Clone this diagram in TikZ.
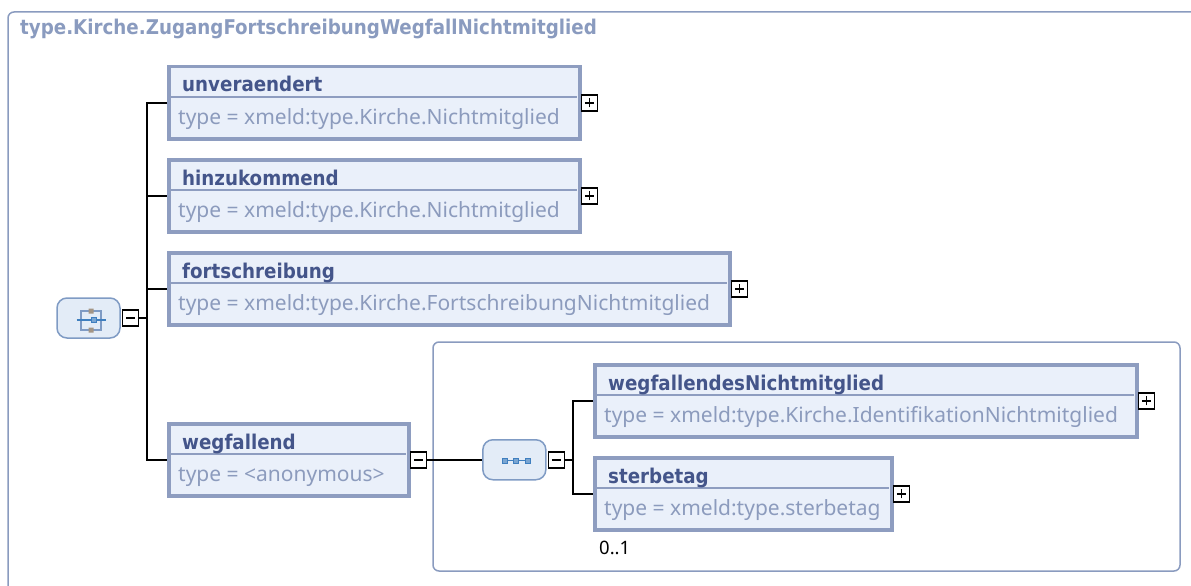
\documentclass[tikz,border=0pt]{standalone}
\usepackage{fontspec}
\setmainfont{Noto Sans}
\newfontfamily\hdfont{DejaVu Sans Condensed Bold}
\usetikzlibrary{positioning,calc}
\definecolor{frameC}{HTML}{8A9BBF}
\definecolor{boxC}{HTML}{8E9DC0}
\definecolor{boxF}{HTML}{EAF0FA}
\definecolor{nameC}{HTML}{44558A}
\definecolor{typeC}{HTML}{8C9BBD}
\definecolor{compF}{HTML}{E3ECF7}
\definecolor{compC}{HTML}{7F9BC4}
\definecolor{iconB}{HTML}{3F7FBF}
\definecolor{iconG}{HTML}{A39585}

\begin{document}
\begin{tikzpicture}[x=1pt,y=-1pt,
    elem/.style={draw=boxC,line width=3.5pt,fill=boxF,anchor=north west,
        minimum height=72,inner sep=0},
    sepline/.style={boxC,line width=1.6pt},
    nametxt/.style={anchor=base west,inner sep=0,text=nameC,
        font=\hdfont\fontsize{20.3}{20}\selectfont},
    typetxt/.style={anchor=base west,inner sep=0,text=typeC,
        font=\fontsize{21}{21}\selectfont},
    togbox/.style={draw=black,line width=1.6pt,fill=white,minimum size=16,inner sep=0},
    comp/.style={draw=compC,line width=1.5pt,fill=compF,rounded corners=10pt,
        minimum width=63,minimum height=40,inner sep=0},
    conn/.style={black,line width=1.7pt}]
    \useasboundingbox (0,0) rectangle (1191,586);
    % frames
    \draw[frameC,line width=1.5pt,rounded corners=6pt] (8,12) rectangle (1240,640);
    \node[anchor=base west,inner sep=0,text=frameC,font=\hdfont\fontsize{20.3}{20}\selectfont]
        (title) at (20,35) {type.Kirche.ZugangFortschreibungWegfallNichtmitglied};
    \draw[frameC,line width=1.5pt,rounded corners=6pt] (433,342) rectangle (1180,571);
    % elements
    \foreach \id/\x/\y/\w/\nm/\tp in {
        unver/167/65/411/unveraendert/xmeld:type.Kirche.Nichtmitglied,
        hinzu/167/158/411/hinzukommend/xmeld:type.Kirche.Nichtmitglied,
        fort/167/251/561/fortschreibung/xmeld:type.Kirche.FortschreibungNichtmitglied,
        wegf/167/422/240/wegfallend/<anonymous>,
        wegnm/593/363/542/wegfallendesNichtmitglied/xmeld:type.Kirche.IdentifikationNichtmitglied,
        sterbe/593/456/297/sterbetag/xmeld:type.sterbetag}{
        \node[elem,minimum width=\w] (\id) at (\x,\y) {};
        \draw[sepline] ([xshift=2pt,yshift=-32pt]\id.north west) -- ([xshift=-5pt,yshift=-32pt]\id.north east);
        \node[nametxt] (\id-n) at ([xshift=15pt,yshift=-27pt]\id.north west) {\nm};
        \node[typetxt] (\id-t) at ([xshift=11pt,yshift=-59pt]\id.north west) {type = \tp};
    }
    \node[anchor=west,inner sep=0,font=\fontsize{18.5}{18}\selectfont]
        (occ) at ([xshift=6pt,yshift=-16pt]sterbe.south west) {0..1};
    % expand boxes
    \foreach \id in {unver,hinzu,fort,wegnm,sterbe}{
        \node[togbox,anchor=west] (\id-p) at ([xshift=-1pt]\id.east) {};
        \draw[line width=1.6pt] ([xshift=-4.5pt]\id-p.center) -- ([xshift=4.5pt]\id-p.center)
            ([yshift=-4.5pt]\id-p.center) -- ([yshift=4.5pt]\id-p.center);
    }
    % choice
    \node[comp] (choice) at (88.5,318) {};
    \node[togbox,right=1pt of choice] (chm) {};
    \draw[line width=1.6pt] ([xshift=-4.5pt]chm.center) -- ([xshift=4.5pt]chm.center);
    \begin{scope}[shift={(choice.center)}]
        \draw[compC,line width=1.2pt] (-7.5,-7) rectangle (12.5,12);
        \draw[iconB,line width=1.2pt] (-12,2) -- (17,2);
        \fill[iconG] (0,-9.5) rectangle (5,-4.5) (0,9.5) rectangle (5,14.5);
        \filldraw[fill=iconB!70,draw=iconB] (3,-0.5) rectangle (8,4.5);
    \end{scope}
    % sequence
    \node[togbox,anchor=west] (wegf-m) at ([xshift=-1pt]wegf.east) {};
    \draw[line width=1.6pt] ([xshift=-4.5pt]wegf-m.center) -- ([xshift=4.5pt]wegf-m.center);
    \node[comp,right=55pt of wegf-m] (seq) {};
    \node[togbox,right=1pt of seq] (seqm) {};
    \draw[line width=1.6pt] ([xshift=-4.5pt]seqm.center) -- ([xshift=4.5pt]seqm.center);
    \begin{scope}[shift={(seq.center)}]
        \draw[iconB,line width=1pt] (-10,1) -- (13,1);
        \foreach \s in {-10,1.5,13}
            \filldraw[fill=iconB!70,draw=iconB] (\s-2.5,-1.5) rectangle (\s+2.5,3.5);
    \end{scope}
    % connectors
    \coordinate (tk) at (147,0);
    \coordinate (tk2) at (573,0);
    \draw[conn] (unver.west) -- (unver.west -| tk) -- (wegf.west -| tk) -- (wegf.west);
    \draw[conn] (hinzu.west -| tk) -- (hinzu.west);
    \draw[conn] (fort.west -| tk) -- (fort.west);
    \draw[conn] (chm.east) -- (chm.east -| tk);
    \draw[conn] (wegf-m.east) -- (seq.west);
    \draw[conn] (wegnm.west) -- (wegnm.west -| tk2) -- (sterbe.west -| tk2) -- (sterbe.west);
    \draw[conn] (seqm.east) -- (seqm.east -| tk2);
\end{tikzpicture}
\end{document}
